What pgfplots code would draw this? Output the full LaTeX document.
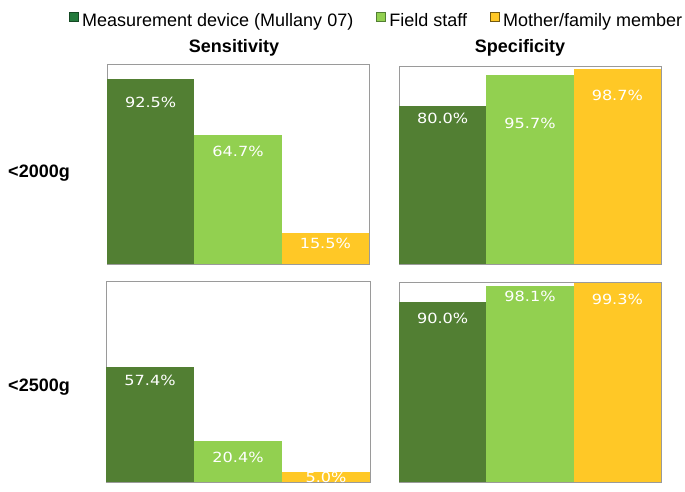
\documentclass[border=0pt]{standalone}
\usepackage{pgfplots}
\pgfplotsset{compat=1.18}
\usepackage{fontspec}
\setmainfont{Liberation Sans}
\newfontfamily\lblfont{DejaVu Sans}
\definecolor{cDark}{HTML}{527F33}
\definecolor{cLight}{HTML}{92D050}
\definecolor{cGold}{HTML}{FFC826}
\definecolor{lDark}{HTML}{237A3C}
\definecolor{frameGray}{HTML}{9A9A9A}
\pgfplotsset{
  panel/.style={scale only axis, anchor=south west, xmin=-0.5, xmax=2.5, ymin=0, ymax=100,
    xtick=\empty, ytick=\empty, axis line style={frameGray, line width=0.8pt}, clip=false,
    every axis title/.style={at={(0.5,1)}, anchor=base, inner sep=0pt,
      font=\bfseries\fontsize{18}{20}\selectfont},
    every axis y label/.style={at={(0,0.5)}, anchor=base east, inner sep=0pt,
      font=\bfseries\fontsize{18}{20}\selectfont}},
  bars/.style={ybar, bar width=1, bar shift=0pt, draw=none, forget plot},
  lbls/.style={draw=none, mark=none, forget plot, point meta=explicit,
    nodes near coords={\pgfmathprintnumber[fixed,fixed zerofill,precision=1,assume math mode=true]{\pgfplotspointmeta}\%},
    nodes near coords align=center,
    every node near coord/.style={anchor=center, inner sep=0pt, text=white, xscale=1.15,
      font=\lblfont\fontsize{14}{16}\selectfont}},
}
\begin{document}
\begin{tikzpicture}
\useasboundingbox (0,0) rectangle (685pt,491pt);
% top-left: Sensitivity <2000g
\begin{axis}[panel, at={(107pt,227pt)}, width=262pt, height=200pt,
  title={Sensitivity}, title style={yshift=11pt, xshift=-4pt},
  ylabel={<2000g}, ylabel style={xshift=-37pt, yshift=-13pt},
  legend columns=3,
  legend style={at={(0,1)}, anchor=west, xshift=-38pt, yshift=43.5pt, draw=none, fill=none,
    inner sep=0pt, font=\fontsize{18}{20}\selectfont,
    /tikz/every even column/.append style={column sep=21pt}},
  legend image code/.code={\draw[#1, line width=0.6pt] (0pt,-0.5pt) rectangle (8.5pt,8pt);
    \path (10.5pt,0pt);}]
\addlegendimage{fill=lDark, draw=lDark!60!black}
\addlegendentry{Measurement device (Mullany 07)}
\addlegendimage{fill=cLight, draw=cDark}
\addlegendentry{Field staff}
\addlegendimage{fill=cGold, draw=cGold!45!black}
\addlegendentry{Mother/family member}
\addplot[bars, fill=cDark] coordinates {(0,92.5)};
\addplot[bars, fill=cLight] coordinates {(1,64.7)};
\addplot[bars, fill=cGold] coordinates {(2,15.5)};
\addplot[lbls] table[meta=v] {
x y v
0 81 92.5
1 56.5 64.7
2 10.5 15.5
};
\end{axis}
% top-right: Specificity <2000g
\begin{axis}[panel, at={(399pt,227pt)}, width=262pt, height=198pt,
  title={Specificity}, title style={yshift=13pt, xshift=-10pt}]
\addplot[bars, fill=cDark] coordinates {(0,80.0)};
\addplot[bars, fill=cLight] coordinates {(1,95.7)};
\addplot[bars, fill=cGold] coordinates {(2,98.7)};
\addplot[lbls] table[meta=v] {
x y v
0 73.7 80.0
1 71.2 95.7
2 85.4 98.7
};
\end{axis}
% bottom-left: Sensitivity <2500g
\begin{axis}[panel, at={(106pt,9pt)}, width=264pt, height=201pt,
  ylabel={<2500g}, ylabel style={xshift=-36pt, yshift=-9.5pt}]
\addplot[bars, fill=cDark] coordinates {(0,57.4)};
\addplot[bars, fill=cLight] coordinates {(1,20.4)};
\addplot[bars, fill=cGold] coordinates {(2,5.0)};
\addplot[lbls] table[meta=v] {
x y v
0 50.7 57.4
1 12.1 20.4
2 2.5 5.0
};
\end{axis}
% bottom-right: Specificity <2500g
\begin{axis}[panel, at={(399pt,9pt)}, width=262pt, height=200pt]
\addplot[bars, fill=cDark] coordinates {(0,90.0)};
\addplot[bars, fill=cLight] coordinates {(1,98.1)};
\addplot[bars, fill=cGold] coordinates {(2,99.3)};
\addplot[lbls] table[meta=v] {
x y v
0 82 90.0
1 93 98.1
2 91.5 99.3
};
\end{axis}
\end{tikzpicture}
\end{document}
